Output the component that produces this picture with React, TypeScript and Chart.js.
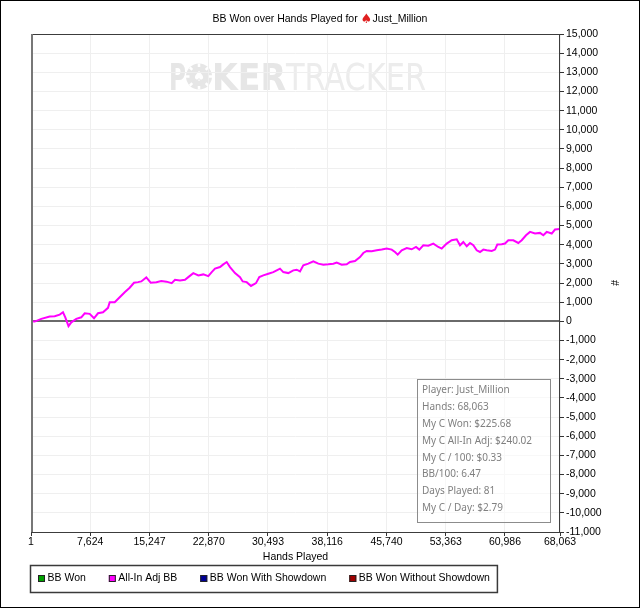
import { useEffect, useRef } from "react";
import { Chart, registerables } from "chart.js";

Chart.register(...registerables);

const chartTitle = "BB Won over Hands Played for";
const playerName = "Just_Million";
const xAxisTitle = "Hands Played";
const yAxisTitle = "#";

const handsPlayed = [
  1, 477, 1326, 2407, 3050, 3694, 4118, 4414, 4826, 5186, 5830, 6473, 6910, 7554, 8107, 8622, 9265, 9908, 10127, 10770,
  11414, 12057, 12700, 13254, 13768, 14193, 14836, 15402, 16123, 16766, 17435, 18104, 18529, 19172, 19815, 20240, 20883,
  21527, 22170, 22813, 23251, 23676, 24319, 24743, 25181, 25605, 26249, 26892, 27239, 27754, 28307, 28950, 29375, 29889,
  30533, 31176, 31613, 32038, 32462, 33106, 33749, 34187, 34612, 35036, 35680, 36323, 36966, 37610, 38253, 38897, 39334,
  39977, 40621, 41045, 41689, 42332, 42757, 43194, 43837, 44481, 45124, 45767, 46411, 46836, 47183, 47698, 48341, 48984,
  49538, 49962, 50477, 51120, 51764, 52407, 52844, 53488, 54131, 54774, 55199, 55624, 56061, 56486, 56910, 57348, 57772,
  58197, 58634, 59278, 59702, 59998, 60564, 60989, 61413, 62057, 62700, 63138, 63691, 64206, 64849, 65493, 65917, 66354,
  66998, 67423, 68063,
];

const allInAdjBB = [
  0, -15, 126, 246, 262, 351, 472, 210, -252, -52, 126, 210, 420, 388, 157, 420, 472, 703, 996, 996,
  1259, 1521, 1752, 2014, 2045, 2082, 2292, 2014, 2045, 2098, 2071, 1993, 2171, 2134, 2171, 2307, 2517,
  2397, 2449, 2360, 2570, 2748, 2832, 2973, 3094, 2832, 2517, 2307, 2082, 2045, 1846, 1993, 2307, 2397,
  2486, 2570, 2659, 2748, 2570, 2517, 2659, 2695, 2606, 2921, 3010, 3131, 3010, 2958, 2973, 3010, 3063,
  2958, 2973, 3094, 3146, 3356, 3566, 3671, 3655, 3707, 3744, 3797, 3744, 3618, 3482, 3707, 3828, 3760,
  3881, 3744, 3970, 3943, 4059, 3881, 3797, 4059, 4232, 4284, 3970, 4143, 3917, 4090, 3970, 3707, 3618,
  3744, 3707, 3671, 3744, 4006, 4022, 4059, 4232, 4232, 4090, 4232, 4494, 4667, 4583, 4615, 4494, 4667,
  4583, 4793, 4825,
];

const xTickValues = [1, 7624, 15247, 22870, 30493, 38116, 45740, 53363, 60986, 68063];
const yMin = -11000;
const yMax = 15000;
const yStep = 1000;

const legendLabels = ["BB Won", "All-In Adj BB", "BB Won With Showdown", "BB Won Without Showdown"];
const legendColors = ["#00a000", "#ff00ff", "#000096", "#a00000"];

const statsLines = [
  "Player: Just_Million",
  "Hands: 68,063",
  "My C Won: $225.68",
  "My C All-In Adj: $240.02",
  "My C / 100: $0.33",
  "BB/100: 6.47",
  "Days Played: 81",
  "My C / Day: $2.79",
];

const UI_FONT = "'Liberation Sans', Arial, sans-serif";
const UI_SIZE = 10.5;

function fitText(ctx: CanvasRenderingContext2D, text: string, x: number, baseline: number, width: number, font: string, color: string) {
  ctx.save();
  ctx.font = font;
  const w = ctx.measureText(text).width;
  ctx.translate(x, baseline);
  ctx.scale(width / w, 1);
  ctx.fillStyle = color;
  ctx.textAlign = "left";
  ctx.textBaseline = "alphabetic";
  ctx.fillText(text, 0, 0);
  ctx.restore();
}

const decorPlugin = {
  id: "decor",
  beforeDraw(chart: any) {
    const ctx: CanvasRenderingContext2D = chart.ctx;
    const { chartArea } = chart;
    ctx.save();
    ctx.fillStyle = "#ffffff";
    ctx.fillRect(0, 0, chart.width, chart.height);

    // watermark
    const cx = (chartArea.left + chartArea.right) / 2;
    const base = chartArea.top + 56;
    const bold = `bold 37px 'DejaVu Sans Condensed', 'DejaVu Sans', sans-serif`;
    const light = `37px 'DejaVu Sans Condensed', 'DejaVu Sans', sans-serif`;
    fitText(ctx, "P", cx - 126.5, base, 17, bold, "#e6e6e6");
    // chip
    const chipX = cx - 96.5;
    const chipY = base - 13.5;
    ctx.fillStyle = "#e6e6e6";
    ctx.beginPath();
    ctx.arc(chipX, chipY, 13, 0, Math.PI * 2);
    ctx.fill();
    ctx.strokeStyle = "#ffffff";
    ctx.lineWidth = 2.5;
    for (let i = 0; i < 8; i++) {
      const a = (i * Math.PI) / 4;
      ctx.beginPath();
      ctx.moveTo(chipX + Math.cos(a) * 9.5, chipY + Math.sin(a) * 9.5);
      ctx.lineTo(chipX + Math.cos(a) * 13, chipY + Math.sin(a) * 13);
      ctx.stroke();
    }
    ctx.fillStyle = "#ffffff";
    ctx.font = "14px 'DejaVu Sans', sans-serif";
    ctx.textAlign = "center";
    ctx.textBaseline = "middle";
    ctx.fillText("\u2660", chipX, chipY + 1);
    fitText(ctx, "KER", cx - 83.5, base, 74, bold, "#e6e6e6");
    fitText(ctx, "TRACKER", cx - 9.5, base, 140, light, "#ececec");
    ctx.restore();
  },
  beforeDatasetsDraw(chart: any) {
    const ctx: CanvasRenderingContext2D = chart.ctx;
    const { chartArea, scales } = chart;
    const y0 = Math.round(scales.y.getPixelForValue(0));
    ctx.save();
    ctx.strokeStyle = "#6a6a6a";
    ctx.lineWidth = 2;
    ctx.beginPath();
    ctx.moveTo(chartArea.left, y0);
    ctx.lineTo(chartArea.right, y0);
    ctx.stroke();
    ctx.restore();
  },
  afterDraw(chart: any) {
    const ctx: CanvasRenderingContext2D = chart.ctx;
    const { chartArea } = chart;
    ctx.save();

    // plot border
    ctx.strokeStyle = "#3c3c3c";
    ctx.lineWidth = 1;
    ctx.strokeRect(chartArea.left + 0.5, chartArea.top + 0.5, chartArea.right - chartArea.left - 1, chartArea.bottom - chartArea.top);
    ctx.strokeStyle = "#777777";
    ctx.lineWidth = 2;
    ctx.beginPath();
    ctx.moveTo(chartArea.left + 1, chartArea.top);
    ctx.lineTo(chartArea.left + 1, chartArea.bottom);
    ctx.stroke();

    // title
    const font = `${UI_SIZE}px ${UI_FONT}`;
    ctx.font = font;
    ctx.textBaseline = "middle";
    ctx.textAlign = "left";
    const t1 = chartTitle + " ";
    const w1 = ctx.measureText(t1).width;
    const w2 = ctx.measureText(playerName).width;
    const iconW = 12;
    const total = w1 + iconW + w2;
    let tx = chart.width / 2 - total / 2;
    const ty = 19.5;
    ctx.fillStyle = "#000000";
    ctx.fillText(t1, tx, ty);
    tx += w1;
    ctx.font = "13px 'DejaVu Sans', sans-serif";
    ctx.fillStyle = "#e02020";
    ctx.fillText("\u2660", tx, ty);
    tx += iconW;
    ctx.font = font;
    ctx.fillStyle = "#000000";
    ctx.fillText(playerName, tx, ty);

    // stats box
    const bx = chartArea.right - 142.5;
    const by = chartArea.bottom - 152.5;
    const bw = 133;
    const bh = 143;
    ctx.fillStyle = "rgba(255,255,255,0.55)";
    ctx.fillRect(bx, by, bw, bh);
    ctx.strokeStyle = "#8c8c8c";
    ctx.lineWidth = 1;
    ctx.strokeRect(bx, by, bw, bh);
    ctx.font = "10px 'Noto Sans', 'Open Sans', sans-serif";
    ctx.fillStyle = "#808080";
    ctx.textBaseline = "middle";
    statsLines.forEach((line, i) => {
      ctx.fillText(line, bx + 4.5, by + 11 + i * 16.8);
    });

    // legend
    ctx.font = font;
    const ly = 578.5;
    let lx = 38;
    let lastEnd = lx;
    legendLabels.forEach((label, i) => {
      ctx.fillStyle = legendColors[i];
      ctx.fillRect(lx, ly - 3.5, 7, 7);
      ctx.strokeStyle = "#222222";
      ctx.lineWidth = 1;
      ctx.strokeRect(lx + 0.5, ly - 3, 6, 6);
      ctx.fillStyle = "#000000";
      ctx.fillText(label, lx + 9.5, ly);
      const w = ctx.measureText(label).width;
      lastEnd = lx + 9.5 + w;
      lx = lastEnd + 23;
    });
    ctx.strokeStyle = "#3a3a3a";
    ctx.lineWidth = 1.5;
    ctx.strokeRect(30.5, 565.5, lastEnd + 7.5 - 30.5, 27);

    // outer frame
    ctx.strokeStyle = "#000000";
    ctx.lineWidth = 1;
    ctx.strokeRect(0.5, 0.5, chart.width - 1, chart.height - 1);
    ctx.restore();
  },
};

export default function App() {
  const canvasRef = useRef<HTMLCanvasElement | null>(null);

  useEffect(() => {
    const canvas = canvasRef.current;
    if (!canvas) return;
    const data = handsPlayed.map((h, i) => ({ x: h, y: allInAdjBB[i] }));
    const fmt = (v: any) => Number(v).toLocaleString("en-US");
    const chart = new Chart(canvas, {
      type: "line",
      data: {
        datasets: [
          {
            label: legendLabels[1],
            data,
            borderColor: legendColors[1],
            borderWidth: 2,
            pointRadius: 0,
            tension: 0,
            fill: false,
          },
        ],
      },
      options: {
        animation: false,
        responsive: false,
        devicePixelRatio: 1,
        layout: { padding: { left: 31, top: 34, right: 14, bottom: 44 } },
        plugins: {
          legend: { display: false },
          title: { display: false },
          tooltip: { enabled: false },
        },
        scales: {
          x: {
            type: "linear",
            min: 1,
            max: 68063,
            afterBuildTicks: (scale: any) => {
              scale.ticks = xTickValues.map((v) => ({ value: v }));
            },
            afterFit: (scale: any) => {
              scale.height = 32;
            },
            border: { display: false },
            grid: { color: "#efefef", lineWidth: 1, tickColor: "#333333", tickLength: 4, drawOnChartArea: true },
            ticks: {
              autoSkip: false,
              maxRotation: 0,
              padding: 0,
              color: "#000000",
              font: { family: UI_FONT, size: UI_SIZE },
              callback: (v: any) => fmt(v),
            },
            title: {
              display: true,
              text: xAxisTitle,
              color: "#000000",
              font: { family: UI_FONT, size: UI_SIZE },
              padding: { top: 0, bottom: 1 },
            },
          },
          y: {
            type: "linear",
            position: "right",
            min: yMin,
            max: yMax,
            afterFit: (scale: any) => {
              scale.width = 66;
            },
            border: { display: false },
            grid: { color: "#efefef", lineWidth: 1, tickColor: "#333333", tickLength: 4 },
            ticks: {
              stepSize: yStep,
              padding: 2,
              color: "#000000",
              font: { family: UI_FONT, size: UI_SIZE },
              callback: (v: any) => fmt(v),
            },
            title: {
              display: true,
              text: yAxisTitle,
              color: "#000000",
              font: { family: UI_FONT, size: UI_SIZE },
              padding: { top: 6, bottom: 0 },
            },
          },
        },
      },
      plugins: [decorPlugin],
    } as any);
    return () => chart.destroy();
  }, []);

  return (
    <div style={{ position: "fixed", left: 0, top: 0, width: 640, height: 608, background: "#fff" }}>
      <canvas ref={canvasRef} width={640} height={608} style={{ display: "block", width: 640, height: 608 }} />
    </div>
  );
}
